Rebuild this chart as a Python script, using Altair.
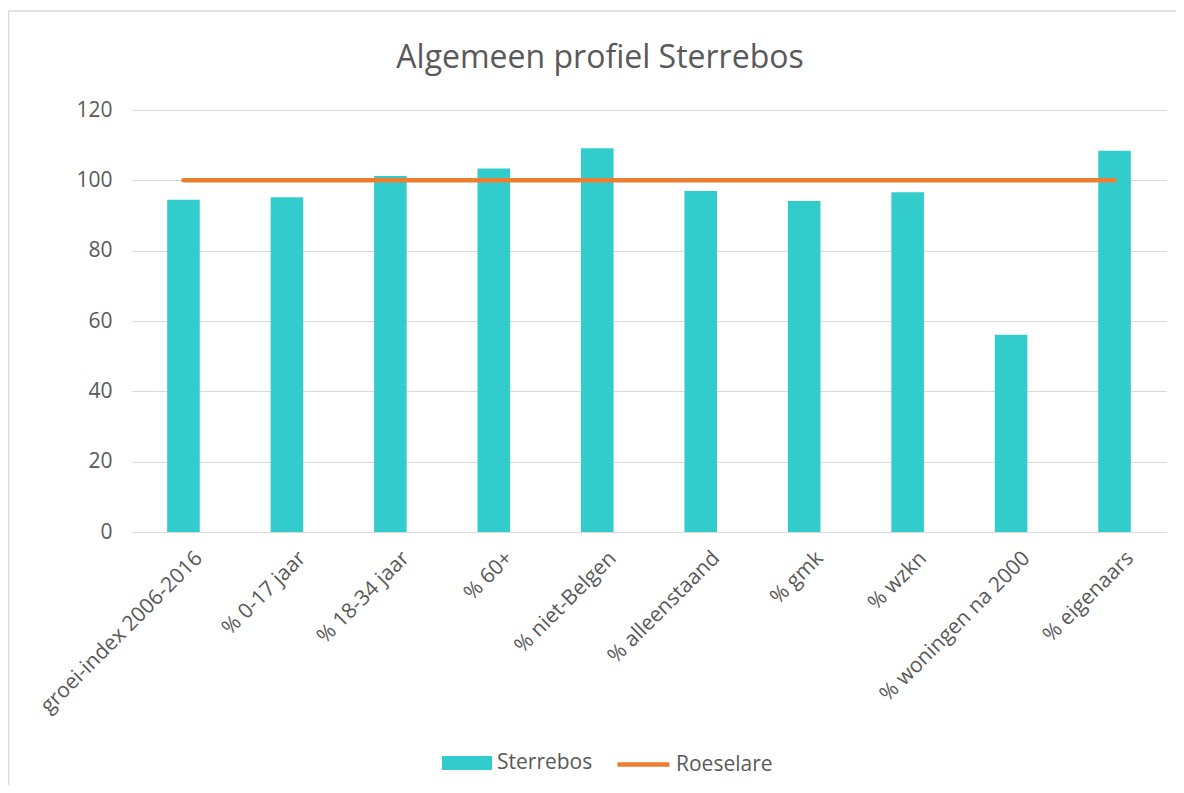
import altair as alt
import pandas as pd

categories = ["groei-index 2006-2016", "% 0-17 jaar", "% 18-34 jaar", "% 60+",
              "% niet-Belgen", "% alleenstaand", "% gmk", "% wzkn",
              "% woningen na 2000", "% eigenaars"]
sterrebos = [94.5, 95.2, 101.2, 103.4, 109.1, 97.0, 94.1, 96.6, 56.1, 108.4]
roeselare = [100, 100, 100, 100, 100, 100, 100, 100, 100, 100]
title_text = "Algemeen profiel Sterrebos"

FONT = "Open Sans"
GREY = "#595959"

bars_df = pd.DataFrame({"cat": categories, "value": sterrebos, "series": "Sterrebos"})
line_df = pd.DataFrame({"cat": categories, "value": roeselare, "series": "Roeselare"})

xenc = alt.X("cat:N", sort=categories, title=None,
             scale=alt.Scale(paddingInner=0.685, paddingOuter=0.34),
             axis=alt.Axis(labelAngle=-45, labelFontSize=21, labelColor=GREY, labelFont=FONT,
                           ticks=False, domainColor="#D9D9D9", domainWidth=1,
                           labelAlign="right", labelBaseline="top",
                           labelPadding=15, labelOffset=8, labelLimit=400))
yenc = alt.Y("value:Q", title=None,
             scale=alt.Scale(domain=[0, 120], nice=False),
             axis=alt.Axis(values=[0, 20, 40, 60, 80, 100, 120], labelFontSize=21,
                           labelColor=GREY, labelFont=FONT, ticks=False, domain=False,
                           gridColor="#D9D9D9", gridWidth=1, labelPadding=20))

bars = alt.Chart(bars_df).mark_bar().encode(
    x=xenc, y=yenc,
    fill=alt.Fill("series:N", scale=alt.Scale(domain=["Sterrebos"], range=["#33CCCC"]),
                  legend=alt.Legend(title=None, orient="none", legendX=310, legendY=628,
                                    symbolType="M-1,-0.28L1,-0.28L1,0.28L-1,0.28Z",
                                    symbolSize=2500, symbolStrokeWidth=0,
                                    labelFontSize=21, labelColor=GREY, labelFont=FONT,
                                    labelOffset=5, padding=0))
)

line = alt.Chart(line_df).mark_line(strokeWidth=4.5, strokeCap="round").encode(
    x=alt.X("cat:N", sort=categories),
    y="value:Q",
    stroke=alt.Stroke("series:N", scale=alt.Scale(domain=["Roeselare"], range=["#ED7D31"]),
                      legend=alt.Legend(title=None, orient="none", legendX=483, legendY=626,
                                        symbolType="stroke", symbolSize=2700,
                                        symbolStrokeWidth=4.5,
                                        labelFontSize=21, labelColor=GREY, labelFont=FONT,
                                        labelOffset=4, padding=0))
)

single = alt.Data(values=[{"t": title_text}])
title = alt.Chart(single).mark_text(font=FONT, fontSize=32, color=GREY,
                                    baseline="alphabetic", align="center").encode(
    text="t:N", x=alt.value(468), y=alt.value(-42))

top_border = alt.Chart(single).mark_rule(color="#D9D9D9", strokeWidth=1.5).encode(
    x=alt.value(-124), x2=alt.value(1060), y=alt.value(-99))
left_border = alt.Chart(single).mark_rule(color="#D9D9D9", strokeWidth=1.5).encode(
    x=alt.value(-123.5), y=alt.value(-99), y2=alt.value(680))

chart = alt.layer(bars, line, title, top_border, left_border).properties(
    width=1034, height=422,
    autosize=alt.AutoSizeParams(type="none"),
    padding={"left": 124, "top": 102, "right": 10, "bottom": 253},
).configure_view(stroke=None)

chart.save("out.html", embed_options={"renderer": "svg", "actions": False})
